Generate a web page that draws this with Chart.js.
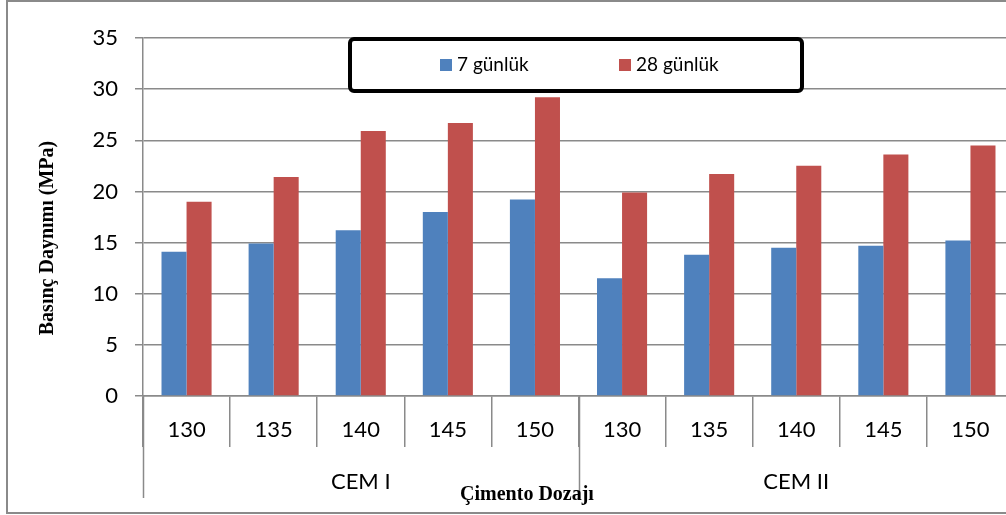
<!DOCTYPE html>
<html>
<head>
<meta charset="utf-8">
<script src="https://cdn.jsdelivr.net/npm/chart.js@4"></script>
<style>
  html, body { margin: 0; padding: 0; overflow: hidden; background: #fff; }
  #wrap { width: 1022px; height: 515px; }
</style>
</head>
<body>
<div id="wrap"><canvas id="c" width="1022" height="515"></canvas></div>
<script>
// Cement types and dosages (kg/m3)
const groups = ['CEM I', 'CEM II'];
const doses = ['130', '135', '140', '145', '150'];

// Compressive strength (MPa)
const day7 = [14.1, 14.9, 16.2, 18.0, 19.2, 11.5, 13.8, 14.5, 14.7, 15.2];
const day28 = [19.0, 21.4, 25.9, 26.7, 29.2, 19.9, 21.7, 22.5, 23.6, 24.5];

const seriesNames = ['7 günlük', '28 günlük'];
const yTitle = 'Basınç Daynımı (MPa)';
const xTitle = 'Çimento Dozajı';

const labels = [];
groups.forEach(() => doses.forEach(d => labels.push(d)));

const GRID = '#8a8a8a';
const SANS = 'Lato, "Open Sans", sans-serif';
const SERIF = '"Liberation Serif", "DejaVu Serif", serif';

const decor = {
  id: 'decor',
  beforeDraw(chart) {
    const ctx = chart.ctx;
    ctx.save();
    ctx.fillStyle = '#fff';
    ctx.fillRect(0, 0, chart.width, chart.height);
    ctx.strokeStyle = '#8a8a8a';
    ctx.lineWidth = 2;
    ctx.strokeRect(7, 1, chart.width + 20, 512);
    ctx.restore();
  },
  afterDraw(chart) {
    const ctx = chart.ctx;
    const x = chart.scales.x;
    const area = chart.chartArea;
    const n = doses.length;
    const step = x.getPixelForValue(1) - x.getPixelForValue(0);
    ctx.save();

    // group separators and group names
    ctx.strokeStyle = GRID;
    ctx.lineWidth = 1.5;
    groups.forEach((g, gi) => {
      const start = x.getPixelForValue(gi * n) - step / 2;
      const end = x.getPixelForValue(gi * n + n - 1) + step / 2;
      ctx.beginPath();
      ctx.moveTo(Math.round(start) + 0.5, area.bottom);
      ctx.lineTo(Math.round(start) + 0.5, 498);
      ctx.stroke();
      ctx.fillStyle = '#000';
      ctx.font = '22px ' + SANS;
      ctx.textAlign = 'center';
      ctx.textBaseline = 'middle';
      ctx.fillText(g, (start + end) / 2, 482);
    });

    // axis titles
    ctx.fillStyle = '#000';
    ctx.font = 'bold 20px ' + SERIF;
    ctx.textAlign = 'center';
    ctx.textBaseline = 'alphabetic';
    ctx.fillText(xTitle, 527, 500);
    ctx.save();
    ctx.translate(53, 238);
    ctx.rotate(-Math.PI / 2);
    ctx.fillText(yTitle, 0, 0);
    ctx.restore();

    // legend box
    const bx = 350, by = 39, bw = 452, bh = 52, r = 4;
    ctx.beginPath();
    ctx.moveTo(bx + r, by);
    ctx.arcTo(bx + bw, by, bx + bw, by + bh, r);
    ctx.arcTo(bx + bw, by + bh, bx, by + bh, r);
    ctx.arcTo(bx, by + bh, bx, by, r);
    ctx.arcTo(bx, by, bx + bw, by, r);
    ctx.closePath();
    ctx.fillStyle = '#fff';
    ctx.fill();
    ctx.lineWidth = 4;
    ctx.strokeStyle = '#000';
    ctx.stroke();

    const items = [440, 619];
    ctx.font = '19px ' + SANS;
    ctx.textAlign = 'left';
    ctx.textBaseline = 'middle';
    chart.data.datasets.forEach((ds, i) => {
      ctx.fillStyle = ds.backgroundColor;
      ctx.fillRect(items[i], 59, 12, 12);
      ctx.fillStyle = '#000';
      ctx.fillText(ds.label, items[i] + 17, 65);
    });
    ctx.restore();
  }
};

new Chart(document.getElementById('c'), {
  type: 'bar',
  data: {
    labels: labels,
    datasets: [
      { label: seriesNames[0], data: day7, backgroundColor: '#4F81BD' },
      { label: seriesNames[1], data: day28, backgroundColor: '#C0504D' }
    ]
  },
  options: {
    responsive: false,
    animation: false,
    devicePixelRatio: 1,
    layout: { padding: { left: 0, top: 38, right: 8, bottom: 0 } },
    datasets: { bar: { categoryPercentage: 0.575, barPercentage: 1.0 } },
    plugins: { legend: { display: false }, tooltip: { enabled: false } },
    scales: {
      x: {
        grid: { display: true, offset: true, drawOnChartArea: false, tickLength: 51, color: GRID, lineWidth: 1.5 },
        border: { color: GRID, width: 1.5 },
        ticks: { color: '#000', font: { family: SANS, size: 22 }, padding: -30, maxRotation: 0, autoSkip: false },
        afterFit(s) { s.height = 119; }
      },
      y: {
        min: 0, max: 35,
        grid: { color: GRID, lineWidth: 1.5, tickLength: 8 },
        border: { color: GRID, width: 1.5 },
        ticks: { stepSize: 5, color: '#000', font: { family: SANS, size: 22 }, padding: 17 },
        afterFit(s) { s.width = 143; }
      }
    }
  },
  plugins: [decor]
});
</script>
</body>
</html>
